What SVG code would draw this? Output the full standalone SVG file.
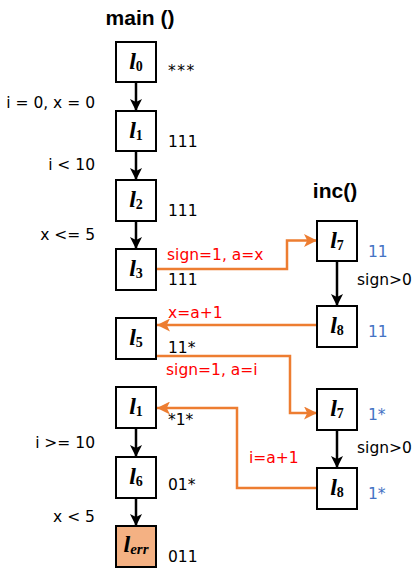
<svg xmlns="http://www.w3.org/2000/svg" width="413" height="569" viewBox="0 0 413 569">
<style>
.box{fill:#fff;stroke:#000;stroke-width:2}
.err{fill:#F4B183;stroke:#000;stroke-width:2}
.nl{font-family:"Liberation Serif",serif;font-weight:bold;font-style:italic;font-size:24px;fill:#000}
.sub{font-style:normal;font-size:14px}
.subi{font-style:italic;font-size:15px}
.t{font-family:"DejaVu Sans",sans-serif;font-size:15.5px;fill:#000}
.r{fill:#FF0000}
.b{fill:#4472C4}
.title{font-family:"Liberation Sans",Arial,sans-serif;font-weight:bold;font-size:21px;fill:#000}
.blk{stroke:#000;stroke-width:2.5;fill:none;marker-end:url(#ab)}
.org{stroke:#ED7D31;stroke-width:2.5;fill:none;marker-end:url(#ao)}
</style>
<defs>
<marker id="ab" viewBox="0 0 12 12" refX="12" refY="6" markerWidth="12" markerHeight="12" markerUnits="userSpaceOnUse" orient="auto"><path d="M0,0 L12,6 L0,12 L3,6 Z" fill="#000"/></marker>
<marker id="ao" viewBox="0 0 12 12" refX="12" refY="6" markerWidth="13" markerHeight="13" markerUnits="userSpaceOnUse" orient="auto"><path d="M0,0 L12,6 L0,12 L3,6 Z" fill="#ED7D31"/></marker>
</defs>

<text class="title" x="140" y="25" text-anchor="middle">main ()</text>
<text class="title" x="335" y="198" text-anchor="middle">inc()</text>

<g id="connectors">
<path class="blk" d="M136,82 V111"/>
<path class="blk" d="M136,151 V180"/>
<path class="blk" d="M136,221 V249"/>
<path class="blk" d="M136,428 V457"/>
<path class="blk" d="M136,498 V526"/>
<path class="blk" d="M337,261 V306"/>
<path class="blk" d="M337,430 V468"/>
<path class="org" d="M157,269 H287 V240.5 H317"/>
<path class="org" d="M317,325 H157"/>
<path class="org" d="M157,356 H290 V413 H317"/>
<path class="org" d="M317,488 H237 V408 H157"/>
</g>

<g id="n_l0"><rect class="box" x="116" y="42" width="40" height="40"/><text class="nl" x="136" y="69" text-anchor="middle">l<tspan class="sub" dy="2">0</tspan></text></g>
<g id="n_l1"><rect class="box" x="116" y="111" width="40" height="40"/><text class="nl" x="136" y="138" text-anchor="middle">l<tspan class="sub" dy="2">1</tspan></text></g>
<g id="n_l2"><rect class="box" x="116" y="180" width="40" height="41"/><text class="nl" x="136" y="207" text-anchor="middle">l<tspan class="sub" dy="2">2</tspan></text></g>
<g id="n_l3"><rect class="box" x="116" y="249" width="40" height="41"/><text class="nl" x="136" y="276" text-anchor="middle">l<tspan class="sub" dy="2">3</tspan></text></g>
<g id="n_l5"><rect class="box" x="116" y="318" width="40" height="41"/><text class="nl" x="136" y="345" text-anchor="middle">l<tspan class="sub" dy="2">5</tspan></text></g>
<g id="n_l1b"><rect class="box" x="116" y="387" width="40" height="41"/><text class="nl" x="136" y="414" text-anchor="middle">l<tspan class="sub" dy="2">1</tspan></text></g>
<g id="n_l6"><rect class="box" x="116" y="457" width="40" height="41"/><text class="nl" x="136" y="484" text-anchor="middle">l<tspan class="sub" dy="2">6</tspan></text></g>
<g id="n_lerr"><rect class="err" x="116" y="526" width="40" height="41"/><text class="nl" x="136" y="552" text-anchor="middle">l<tspan class="subi" dy="2">err</tspan></text></g>
<g id="n_l7"><rect class="box" x="317" y="221" width="40" height="40"/><text class="nl" x="337" y="248" text-anchor="middle">l<tspan class="sub" dy="2">7</tspan></text></g>
<g id="n_l8"><rect class="box" x="317" y="306" width="40" height="41"/><text class="nl" x="337" y="333" text-anchor="middle">l<tspan class="sub" dy="2">8</tspan></text></g>
<g id="n_l7b"><rect class="box" x="317" y="389" width="40" height="41"/><text class="nl" x="337" y="416" text-anchor="middle">l<tspan class="sub" dy="2">7</tspan></text></g>
<g id="n_l8b"><rect class="box" x="317" y="468" width="40" height="41"/><text class="nl" x="337" y="495" text-anchor="middle">l<tspan class="sub" dy="2">8</tspan></text></g>

<g id="labels">
<text class="t" x="168" y="76" letter-spacing="1.5">***</text>
<text class="t" x="95" y="108" text-anchor="end">i = 0, x = 0</text>
<text class="t" x="168" y="147">111</text>
<text class="t" x="95" y="170" text-anchor="end">i &lt; 10</text>
<text class="t" x="168" y="216">111</text>
<text class="t" x="95" y="240" text-anchor="end">x &lt;= 5</text>
<text class="t r" x="167" y="260">sign=1, a=x</text>
<text class="t" x="168" y="285">111</text>
<text class="t r" x="168" y="318">x=a+1</text>
<text class="t" x="168" y="353">11*</text>
<text class="t r" x="166" y="375">sign=1, a=i</text>
<text class="t" x="168" y="425">*1*</text>
<text class="t" x="95" y="448" text-anchor="end">i &gt;= 10</text>
<text class="t" x="168" y="490">01*</text>
<text class="t" x="95" y="522" text-anchor="end">x &lt; 5</text>
<text class="t" x="168" y="562">011</text>
<text class="t b" x="368" y="257">11</text>
<text class="t" x="357" y="285">sign&gt;0</text>
<text class="t b" x="368" y="337">11</text>
<text class="t b" x="368" y="420">1*</text>
<text class="t" x="357" y="453">sign&gt;0</text>
<text class="t b" x="368" y="499">1*</text>
<text class="t r" x="249" y="463">i=a+1</text>
</g>
</svg>
